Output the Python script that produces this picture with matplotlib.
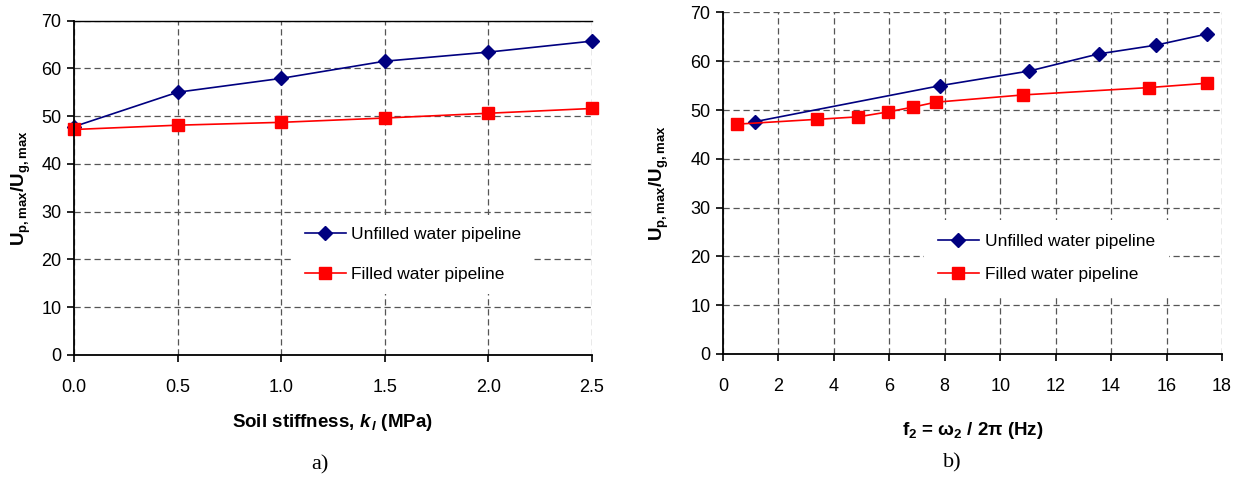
import numpy as np
import matplotlib.pyplot as plt

plt.rcParams['font.family'] = ['Liberation Sans', 'DejaVu Sans']
plt.rcParams['mathtext.fontset'] = 'custom'
plt.rcParams['mathtext.rm'] = 'Liberation Sans:bold'
plt.rcParams['mathtext.bf'] = 'Liberation Sans:bold'
plt.rcParams['mathtext.it'] = 'Liberation Sans:bold:italic'

# a) soil stiffness
k_soil = [0.0, 0.5, 1.0, 1.5, 2.0, 2.5]
unfilled_k = [47.8, 55.0, 57.9, 61.5, 63.4, 65.7]
filled_k = [47.2, 48.1, 48.7, 49.6, 50.6, 51.6]

# b) frequency
f_unfilled = [1.14, 7.84, 11.05, 13.55, 15.62, 17.47]
unfilled_f = [47.6, 55.0, 58.0, 61.5, 63.3, 65.6]
f_filled = [0.49, 3.41, 4.87, 5.94, 6.85, 7.67, 10.83, 15.36, 17.47]
filled_f = [47.1, 48.1, 48.6, 49.6, 50.6, 51.6, 53.1, 54.6, 55.5]

navy = '#000080'
red = '#ff0000'

fig = plt.figure(figsize=(12.54, 4.79), dpi=100)
ax1 = fig.add_axes([0.059, 0.259, 0.413, 0.698])
ax2 = fig.add_axes([0.5765, 0.261, 0.398, 0.713])


def style(ax, xlim, xticks, ypad):
    ax.set_xlim(*xlim)
    ax.set_ylim(0, 70)
    ax.set_xticks(xticks)
    ax.set_yticks(np.arange(0, 71, 10))
    ax.grid(True, color='#555555', linestyle=(0, (5, 3)), linewidth=0.9)
    ax.set_axisbelow(True)
    for s in ['top', 'right']:
        ax.spines[s].set_visible(False)
    for s in ['left', 'bottom']:
        ax.spines[s].set_linewidth(1.3)
    ax.tick_params(direction='out', length=5, width=1.2, labelsize=13, pad=4)
    ax.tick_params(axis='x', pad=12)
    ax.set_ylabel(r'$\mathbf{U_{p,max}/U_{g,max}}$', fontsize=13.5, labelpad=ypad)


style(ax1, (0, 2.5), k_soil, 6)
ax1.spines['top'].set_visible(True)
ax1.spines['top'].set_linewidth(1.0)
ax1.set_xticklabels([f'{v:.1f}' for v in k_soil])
ax1.plot(k_soil, unfilled_k, color=navy, lw=1.2, marker='D', ms=7,
         label='Unfilled water pipeline')
ax1.plot(k_soil, filled_k, color=red, lw=1.2, marker='s', ms=8,
         label='Filled water pipeline')
ax1.set_xlabel(r'Soil stiffness, $k_{\,l}$ (MPa)', fontsize=13.5,
               fontweight='bold', labelpad=12)
for ln in ax1.lines:
    ln.set_clip_on(False)
ax1.legend(loc='upper left', bbox_to_anchor=(0.405, 0.445), fontsize=12.5,
           frameon=True, fancybox=False, edgecolor='none', framealpha=1,
           labelspacing=1.4, handlelength=2.4, handletextpad=0.3,
           borderpad=0.7)

style(ax2, (0, 18), np.arange(0, 19, 2), 14)
ax2.plot(f_unfilled, unfilled_f, color=navy, lw=1.2, marker='D', ms=7,
         label='Unfilled water pipeline')
ax2.plot(f_filled, filled_f, color=red, lw=1.2, marker='s', ms=8,
         label='Filled water pipeline')
ax2.set_xlabel(r'f$_2$ = ω$_2$ / 2π (Hz)', fontsize=13.5, fontweight='bold',
               labelpad=18)
for ln in ax2.lines:
    ln.set_clip_on(False)
ax2.legend(loc='upper left', bbox_to_anchor=(0.385, 0.418), fontsize=12.5,
           frameon=True, fancybox=False, edgecolor='none', framealpha=1,
           labelspacing=1.05, handlelength=2.4, handletextpad=0.3,
           borderpad=0.8)

fig.text(0.248, 0.02, 'a)', fontsize=16, family='Liberation Serif')
fig.text(0.752, 0.025, 'b)', fontsize=16, family='Liberation Serif')

fig.savefig('out.png', dpi=100)
